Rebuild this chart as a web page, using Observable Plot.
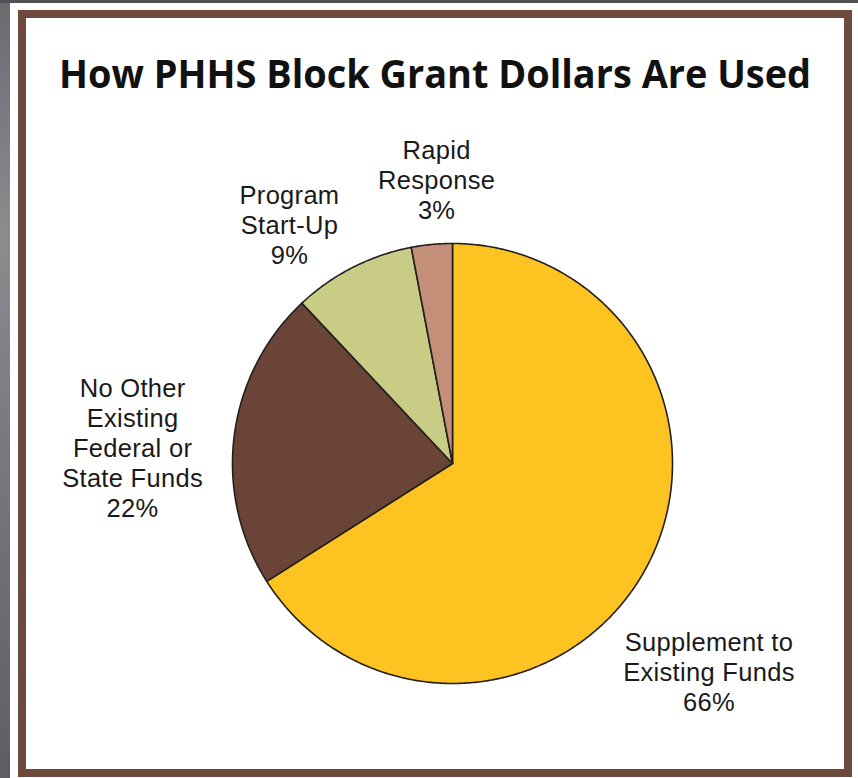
<!DOCTYPE html>
<html>
<head>
<meta charset="utf-8">
<script src="https://cdn.jsdelivr.net/npm/d3@7"></script>
<script src="https://cdn.jsdelivr.net/npm/@observablehq/plot@0.6"></script>
<style>
  html, body { margin: 0; padding: 0; background: #ffffff; width: 858px; height: 778px; overflow: hidden; }
  #bgleft { position: absolute; left: 0; top: 0; width: 10px; height: 778px;
    background: linear-gradient(to bottom, #6a6a70 0%, #8b8b90 30%, #7a7a80 55%, #5d5d64 100%); }
  #bgtop { position: absolute; left: 0; top: 0; width: 858px; height: 3px; background: #505056; }
  #frame { position: absolute; left: 18px; top: 10px; width: 818px; height: 751px;
    border: 8px solid #6d4a3c; background: #ffffff; }
  #title { position: absolute; left: 0; width: 818px; top: 35px; text-align: center;
    font-family: "Open Sans", sans-serif; font-weight: 700; font-size: 39px; line-height: 39px; color: #111; }
  #title span { display: inline-block; transform-origin: center; white-space: nowrap; }
  .layer { position: absolute; left: 0; top: 0; }
</style>
</head>
<body>
<div id="bgleft"></div>
<div id="bgtop"></div>
<div id="frame">
  <div id="pie" class="layer"></div>
  <div id="labels" class="layer"></div>
  <div id="title"><span>How PHHS Block Grant Dollars Are Used</span></div>
</div>
<script>
// ---- data ----
const categories = ["Supplement to Existing Funds", "No Other Existing Federal or State Funds", "Program Start-Up", "Rapid Response"];
const labelLines = ["Supplement to\nExisting Funds", "No Other\nExisting\nFederal or\nState Funds", "Program\nStart-Up", "Rapid\nResponse"];
const values = [66, 22, 9, 3];
const colors = ["#fdc421", "#6a4537", "#c9cc85", "#c48f79"];

// ---- label layout (angle in degrees clockwise from 12 o'clock, radius as fraction of pie radius) ----
const labelAngles = [129, 272.9, 325.7, 356.8];
const labelRadii = [1.50, 1.456, 1.315, 1.293];

// ---- shared frame ----
const W = 818, H = 751;
const M = {marginLeft: 206, marginRight: 172, marginTop: 225, marginBottom: 86};

// ---- build slices ----
const arcs = d3.pie().sort(null).value(d => d)(values);
const pt = (a, r = 1) => [Math.sin(a) * r, -Math.cos(a) * r];
const slices = arcs.map((a, i) => {
  const n = Math.max(2, Math.ceil((a.endAngle - a.startAngle) / (Math.PI / 360)));
  const ring = [[0, 0]];
  for (let k = 0; k <= n; ++k) ring.push(pt(a.startAngle + (a.endAngle - a.startAngle) * k / n));
  ring.push([0, 0]);
  return {type: "Feature", properties: {name: categories[i]}, geometry: {type: "Polygon", coordinates: [ring]}};
});
const labels = categories.map((c, i) => {
  const [x, y] = pt(labelAngles[i] * Math.PI / 180, labelRadii[i]);
  return {name: c, text: labelLines[i] + "\n" + values[i] + "%", x, y};
});

const pie = Plot.plot({
  width: W, height: H, ...M,
  projection: {type: "identity", domain: {type: "MultiPoint", coordinates: [[-1, -1], [1, 1], [-1, 1], [1, -1]]}},
  color: {domain: categories, range: colors},
  style: {background: "transparent", overflow: "visible"},
  marks: [
    Plot.geo(slices, {fill: d => d.properties.name, stroke: "#231f20", strokeWidth: 1.6})
  ]
});
document.getElementById("pie").appendChild(pie);

const lab = Plot.plot({
  width: W, height: H, ...M,
  x: {domain: [-1, 1], axis: null},
  y: {domain: [1, -1], axis: null},
  style: {fontFamily: "'Liberation Sans', Arial, sans-serif", fontSize: "25.5px", letterSpacing: "0.3px", background: "transparent", overflow: "visible", color: "#1a1a1a"},
  marks: [
    Plot.text(labels, {x: "x", y: "y", text: "text", lineHeight: 1.18, fill: "#1a1a1a", fontSize: 25.5})
  ]
});
document.getElementById("labels").appendChild(lab);

// fit title width
const span = document.querySelector("#title span");
const w = span.getBoundingClientRect().width;
span.style.transform = `scaleX(${752 / w})`;
</script>
</body>
</html>
